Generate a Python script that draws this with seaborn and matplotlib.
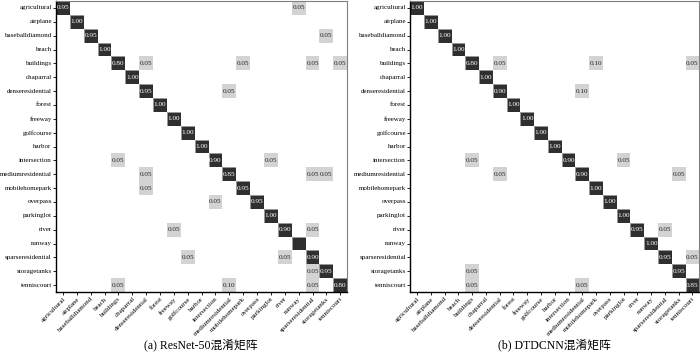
import numpy as np
import pandas as pd
import matplotlib
matplotlib.use("Agg")
import matplotlib.pyplot as plt
import seaborn as sns
from matplotlib.colors import ListedColormap, BoundaryNorm

plt.rcParams['font.family'] = ['Liberation Serif', 'Noto Sans CJK SC']

classes = ["agricultural", "airplane", "baseballdiamond", "beach", "buildings",
           "chaparral", "denseresidential", "forest", "freeway", "golfcourse",
           "harbor", "intersection", "mediumresidential", "mobilehomepark",
           "overpass", "parkinglot", "river", "runway", "sparseresidential",
           "storagetanks", "tenniscourt"]

# ---- ResNet-50 ------------------------------------------------
resnet_diag = [0.95, 1.00, 0.95, 1.00, 0.80, 1.00, 0.95, 1.00, 1.00, 1.00, 1.00,
               0.90, 0.85, 0.95, 0.95, 1.00, 0.90, 1.00, 0.90, 0.95, 0.80]
resnet_off = [
    ("agricultural", "runway", 0.05),
    ("baseballdiamond", "storagetanks", 0.05),
    ("buildings", "denseresidential", 0.05),
    ("buildings", "mobilehomepark", 0.05),
    ("buildings", "sparseresidential", 0.05),
    ("buildings", "tenniscourt", 0.05),
    ("denseresidential", "mediumresidential", 0.05),
    ("intersection", "buildings", 0.05),
    ("intersection", "parkinglot", 0.05),
    ("mediumresidential", "denseresidential", 0.05),
    ("mediumresidential", "sparseresidential", 0.05),
    ("mediumresidential", "storagetanks", 0.05),
    ("mobilehomepark", "denseresidential", 0.05),
    ("overpass", "intersection", 0.05),
    ("river", "freeway", 0.05),
    ("river", "sparseresidential", 0.05),
    ("sparseresidential", "golfcourse", 0.05),
    ("sparseresidential", "river", 0.05),
    ("storagetanks", "sparseresidential", 0.05),
    ("tenniscourt", "buildings", 0.05),
    ("tenniscourt", "mediumresidential", 0.10),
    ("tenniscourt", "sparseresidential", 0.05),
]
resnet_hidden = [("runway", "runway")]  # dark cell printed without a number

# ---- DTDCNN ---------------------------------------------------
dtdcnn_diag = [1.00, 1.00, 1.00, 1.00, 0.80, 1.00, 0.90, 1.00, 1.00, 1.00, 1.00,
               0.90, 0.90, 1.00, 1.00, 1.00, 0.95, 1.00, 0.95, 0.95, 0.85]
dtdcnn_off = [
    ("buildings", "denseresidential", 0.05),
    ("buildings", "mobilehomepark", 0.10),
    ("buildings", "tenniscourt", 0.05),
    ("denseresidential", "mediumresidential", 0.10),
    ("intersection", "buildings", 0.05),
    ("intersection", "parkinglot", 0.05),
    ("mediumresidential", "denseresidential", 0.05),
    ("mediumresidential", "storagetanks", 0.05),
    ("river", "sparseresidential", 0.05),
    ("sparseresidential", "tenniscourt", 0.05),
    ("storagetanks", "buildings", 0.05),
    ("tenniscourt", "buildings", 0.05),
    ("tenniscourt", "mediumresidential", 0.05),
]
dtdcnn_hidden = []


def build(diag, off, hidden):
    cm = pd.DataFrame(0.0, index=classes, columns=classes)
    for c, v in zip(classes, diag):
        cm.loc[c, c] = v
    for r, c, v in off:
        cm.loc[r, c] = v
    labels = cm.map(lambda v: f"{v:.2f}" if v > 0 else "")
    for r, c in hidden:
        labels.loc[r, c] = ""
    return cm, labels


cmap = ListedColormap(["#ffffff", "#d3d3d3", "#2f2f2f"])
norm = BoundaryNorm([0, 0.01, 0.5, 1.01], cmap.N)


def draw(ax, cm, labels):
    sns.heatmap(cm, cmap=cmap, norm=norm, annot=labels.values,
                fmt="", cbar=False, linewidths=0.6, linecolor="#9a9a9a",
                xticklabels=classes, yticklabels=classes,
                annot_kws={"fontsize": 5.2}, ax=ax)
    # outline only the dark cells, no grid over the rest
    mesh = ax.collections[0]
    flat = cm.values.ravel()
    edges = [(0.6, 0.6, 0.6, 1.0) if v >= 0.5 else (0, 0, 0, 0) for v in flat]
    mesh.set_edgecolors(edges)
    plt.setp(ax.get_xticklabels(), rotation=45, ha="right",
             rotation_mode="anchor", fontsize=5.0)
    plt.setp(ax.get_yticklabels(), rotation=0, fontsize=5.0)
    ax.tick_params(length=2, width=0.6, pad=1)
    for side, sp in ax.spines.items():
        sp.set_visible(True)
        if side in ("left", "bottom"):
            sp.set_color("black")
            sp.set_linewidth(1.0)
        else:
            sp.set_color("#808080")
            sp.set_linewidth(0.8)


fig = plt.figure(figsize=(7, 3.54), dpi=100)
ax1 = fig.add_axes([0.080, 0.175, 0.416, 0.822])
ax2 = fig.add_axes([0.586, 0.175, 0.413, 0.822])

cm1, lab1 = build(resnet_diag, resnet_off, resnet_hidden)
cm2, lab2 = build(dtdcnn_diag, dtdcnn_off, dtdcnn_hidden)
draw(ax1, cm1, lab1)
draw(ax2, cm2, lab2)

fig.text(0.287, 0.025, "(a) ResNet-50混淆矩阵", ha="center", va="center", fontsize=8.5)
fig.text(0.792, 0.025, "(b) DTDCNN混淆矩阵", ha="center", va="center", fontsize=8.5)

fig.savefig("out.png", dpi=100)
